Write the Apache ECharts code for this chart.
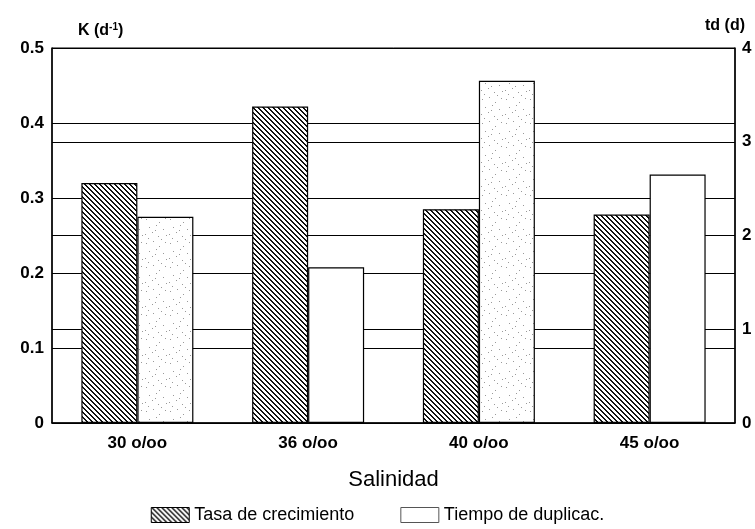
<!DOCTYPE html>
<html>
<head>
<meta charset="utf-8">
<script src="https://cdn.jsdelivr.net/npm/echarts@6/dist/echarts.min.js"></script>
<style>
  html, body { margin: 0; padding: 0; background: #fff; }
  #chart { width: 755px; height: 529px; }
</style>
</head>
<body>
<div id="chart"></div>
<script>
// datos
var categorias = ['30 o/oo', '36 o/oo', '40 o/oo', '45 o/oo'];
var tasaCrecimiento = [0.32, 0.422, 0.285, 0.278]; // K (d-1), eje izquierdo
var tiempoDuplicac = [2.2, 1.66, 3.65, 2.65];      // td (d), eje derecho
var punteado = [true, false, true, false];         // barras con puntos grises

// trama rayada para "Tasa de crecimiento"
function hatchCanvas() {
  var n = 5;
  var c = document.createElement('canvas');
  c.width = n; c.height = n;
  var ctx = c.getContext('2d');
  ctx.fillStyle = '#fff';
  ctx.fillRect(0, 0, n, n);
  ctx.fillStyle = '#111';
  // una diagonal de pixeles por celda
  for (var i = 0; i < n; i++) {
    ctx.fillRect(i, i, 1, 1);
    ctx.fillRect((i + 1) % n, i, 1, 1);
  }
  return c;
}

// trama de puntos (fija, no aleatoria)
function dotCanvas() {
  var c = document.createElement('canvas');
  c.width = 24; c.height = 24;
  var ctx = c.getContext('2d');
  ctx.fillStyle = '#fff';
  ctx.fillRect(0, 0, 24, 24);
  ctx.fillStyle = '#9a9a9a';
  var pts = [[2,3],[9,1],[15,6],[21,2],[5,11],[12,9],[19,13],[1,18],[8,16],[14,20],[22,19],[17,23],[4,22],[11,14]];
  pts.forEach(function (p) { ctx.fillRect(p[0], p[1], 1, 1); });
  return c;
}

var hatch = { image: hatchCanvas(), repeat: 'repeat' };
var dots = { image: dotCanvas(), repeat: 'repeat' };

var chart = echarts.init(document.getElementById('chart'));

var fuente = 'Liberation Sans, Arial, sans-serif';

var option = {
  animation: false,
  backgroundColor: '#fff',
  textStyle: { fontFamily: fuente, color: '#000' },
  grid: {
    left: 52, right: 20, top: 48, bottom: 106,
    show: true, borderColor: '#000', borderWidth: 1, backgroundColor: 'transparent'
  },
  legend: {
    bottom: 0,
    left: 'center',
    icon: 'rect',
    itemWidth: 38,
    itemHeight: 15,
    itemGap: 46,
    textStyle: { fontFamily: fuente, fontSize: 18, color: '#000' },
    data: [
      { name: 'Tasa de crecimiento', itemStyle: { color: hatch, borderColor: '#000', borderWidth: 1 } },
      { name: 'Tiempo de duplicac.', itemStyle: { color: '#fff', borderColor: '#555', borderWidth: 1 } }
    ]
  },
  xAxis: {
    type: 'category',
    data: categorias,
    name: 'Salinidad',
    nameLocation: 'middle',
    nameGap: 46,
    nameTextStyle: { fontFamily: fuente, fontSize: 22, color: '#000' },
    axisLine: { lineStyle: { color: '#000', width: 1.5 } },
    axisTick: { show: false },
    axisLabel: { fontFamily: fuente, fontSize: 17, fontWeight: 'bold', color: '#000', margin: 12 }
  },
  yAxis: [
    {
      type: 'value',
      min: 0, max: 0.5, interval: 0.1,
      name: 'K (d{sup|-1})',
      nameLocation: 'end',
      nameGap: 8,
      nameTextStyle: {
        fontFamily: fuente, fontSize: 16, fontWeight: 'bold', color: '#000',
        align: 'left', padding: [0, 0, 0, 26],
        rich: { sup: { fontSize: 10, fontWeight: 'bold', verticalAlign: 'top', padding: [0, 0, 8, 0] } }
      },
      axisLine: { show: true, lineStyle: { color: '#000', width: 1.5 } },
      axisTick: { show: false },
      axisLabel: {
        fontFamily: fuente, fontSize: 17, fontWeight: 'bold', color: '#000', margin: 8,
        formatter: function (v) { return v === 0 ? '0' : v.toFixed(1); }
      },
      splitLine: { show: true, lineStyle: { color: '#000', width: 1.2 } }
    },
    {
      type: 'value',
      min: 0, max: 4, interval: 1,
      name: 'td (d)',
      nameLocation: 'end',
      nameGap: 14,
      nameTextStyle: {
        fontFamily: fuente, fontSize: 16, fontWeight: 'bold', color: '#000',
        align: 'right', padding: [0, -10, 0, 0]
      },
      axisLine: { show: true, lineStyle: { color: '#000', width: 1.5 } },
      axisTick: { show: false },
      axisLabel: { fontFamily: fuente, fontSize: 17, fontWeight: 'bold', color: '#000', margin: 7 },
      splitLine: { show: true, lineStyle: { color: '#000', width: 1.2 } }
    }
  ],
  series: [
    {
      name: 'Tasa de crecimiento',
      type: 'bar',
      yAxisIndex: 0,
      barWidth: 56,
      barGap: '0%',
      data: tasaCrecimiento,
      itemStyle: { color: hatch, borderColor: '#000', borderWidth: 1.2 }
    },
    {
      name: 'Tiempo de duplicac.',
      type: 'bar',
      yAxisIndex: 1,
      barWidth: 56,
      barGap: '0%',
      data: tiempoDuplicac.map(function (v, i) {
        return { value: v, itemStyle: { color: punteado[i] ? dots : '#fff' } };
      }),
      itemStyle: { color: '#fff', borderColor: '#000', borderWidth: 1.2 }
    }
  ]
};

chart.setOption(option);
</script>
</body>
</html>
